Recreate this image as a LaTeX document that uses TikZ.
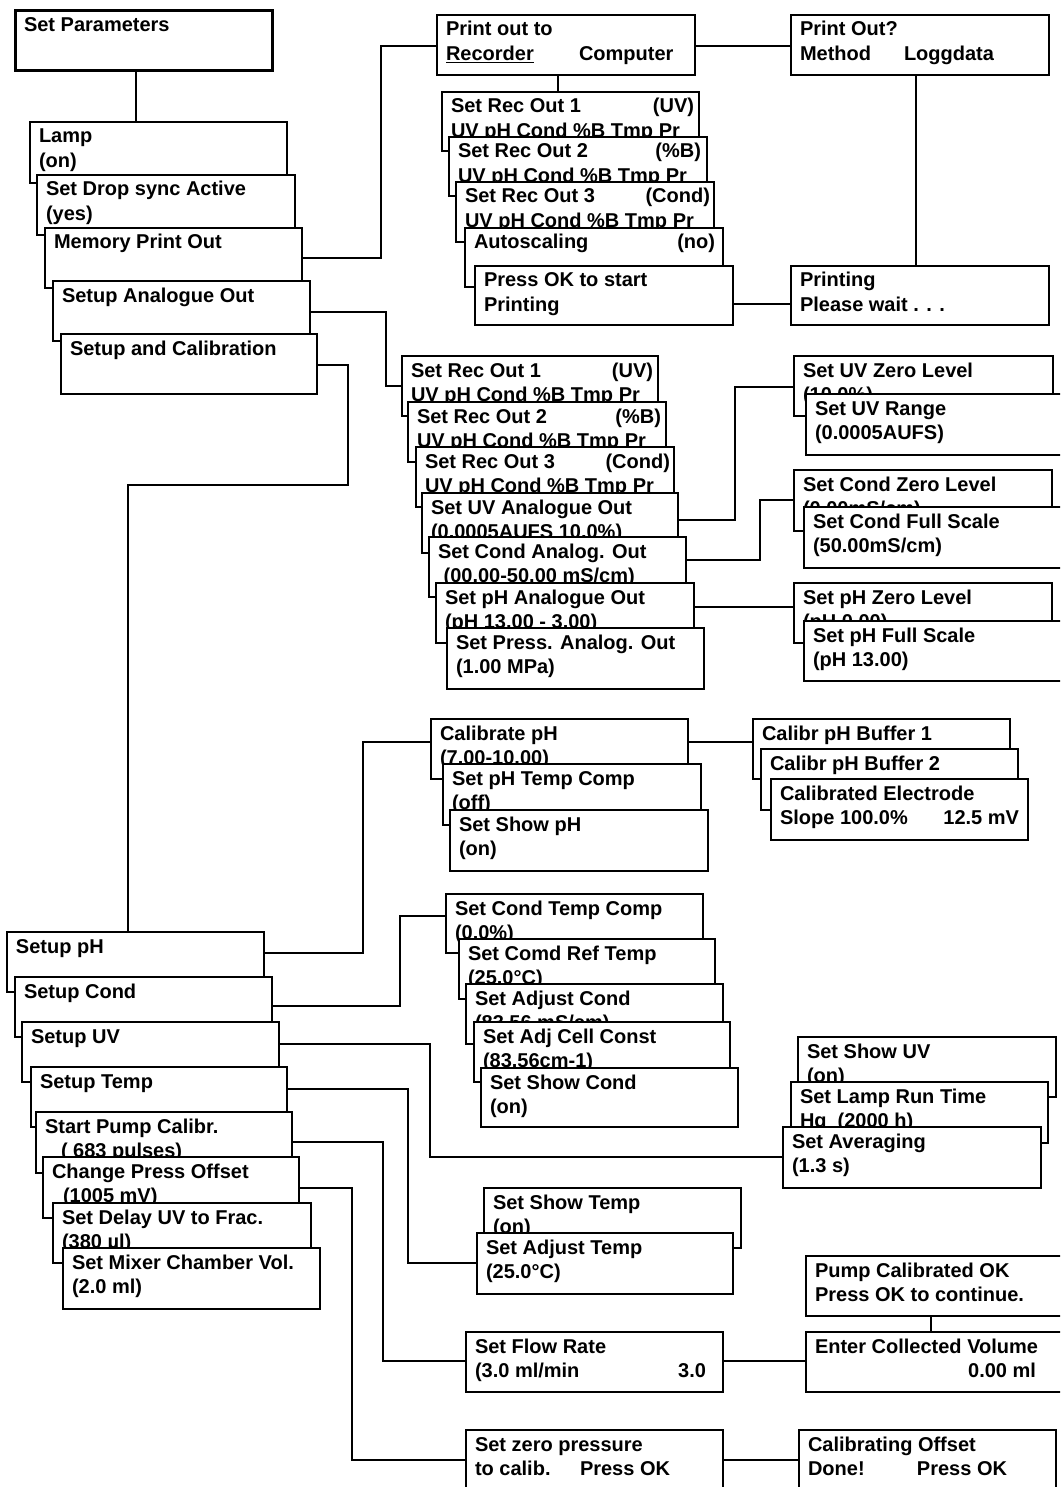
\documentclass[tikz,border=0pt]{standalone}
\usepackage{fontspec}
\setmainfont{Liberation Sans}
\usetikzlibrary{calc}

% one text line of a panel: left part, flush-right part (optional right margin)
\newcommand\pline[3][5]{\hbox to \dimexpr\pw pt-#1pt-9pt\relax{#2\hfil#3}}
% one text line with a second column at a fixed offset
\newcommand\ptab[3]{\hbox{\makebox[#1pt][l]{#2}#3}}
% plain text line
\newcommand\pone[1]{\hbox{#1}}

% \panel[style]{name}{x1}{y1}{x2}{y2}{lines}
\newcommand\panel[7][]{%
  \pgfmathsetmacro\pw{#5-#3}%
  \pgfmathsetmacro\ph{#6-#4}%
  \node[pbox,#1,minimum width=\pw pt,minimum height=\ph pt] (#2) at (#3,#4) {};%
  \node[ptext] (#2-t) at ([shift={(9,21)}]#2.north west) {\vtop{\baselineskip=24.5pt #7}};%
}

\begin{document}
\begin{tikzpicture}[x=1pt,y=-1pt,
  pbox/.style={draw,fill=white,rectangle,inner sep=0pt,outer sep=0pt,
    anchor=north west,line width=1.1pt},
  ptext/.style={anchor=base west,inner sep=0pt,outer sep=0pt,
    font=\fontsize{20}{24.5}\selectfont\bfseries},
  wire/.style={line width=1.1pt}]
\useasboundingbox (0,0) rectangle (1060,1487);
\fill[white] (0,0) rectangle (1060,1487);
\clip (0,0) rectangle (1060,1487);

% main menu
\panel[line width=3pt]{SetParam}{15}{11}{272}{71}{\pone{Set Parameters}}
\panel{Lamp}{30}{122}{287}{183}{\pone{Lamp}\pone{(on)}}
\panel{SetDrop}{37}{175}{295}{235}{\pone{Set Drop sync Active}\pone{(yes)}}
\panel{MemPrint}{45}{228}{302}{288}{\pone{Memory Print Out}}
\panel{SetupAO}{53}{281}{310}{341}{\pone{Setup Analogue Out}}
\panel{SetupCal}{61}{334}{317}{394}{\pone{Setup and Calibration}}

% memory print out
\panel{PrintTo}{437}{15}{695}{75}{\pone{Print out to}\ptab{133}{\underline{Recorder}}{Computer}}
\panel{PrintQ}{791}{15}{1049}{75}{\pone{Print Out?}\ptab{104}{Method}{Loggdata}}
\panel{PRec1}{442}{92}{699}{151}{\pline{Set Rec Out 1}{(UV)}\pone{UV pH Cond \%B Tmp Pr}}
\panel{PRec2}{449}{137}{707}{196}{\pline[6]{Set Rec Out 2}{(\%B)}\pone{UV pH Cond \%B Tmp Pr}}
\panel{PRec3}{456}{182}{714}{242}{\pline[4]{Set Rec Out 3}{(Cond)}\pone{UV pH Cond \%B Tmp Pr}}
\panel{PAuto}{465}{228}{723}{287}{\pline[8]{Autoscaling}{(no)}}
\panel{PressOK}{475}{266}{733}{325}{\pone{Press OK to start}\pone{Printing}}
\panel{Printing}{791}{266}{1049}{325}{\pone{Printing}\pone{Please wait . . .}}

% analogue out
\panel{ARec1}{402}{356}{658}{416}{\pline{Set Rec Out 1}{(UV)}\pone{UV pH Cond \%B Tmp Pr}}
\panel{ARec2}{408}{402}{666}{462}{\pline{Set Rec Out 2}{(\%B)}\pone{UV pH Cond \%B Tmp Pr}}
\panel{ARec3}{416}{447}{674}{507}{\pline[4]{Set Rec Out 3}{(Cond)}\pone{UV pH Cond \%B Tmp Pr}}
\panel{UVAO}{422}{493}{678}{553}{\pone{Set UV Analogue Out}\pone{(0.0005AUFS 10.0\%)}}
\panel{CondAO}{429}{537}{686}{597}{\pone{Set Cond Analog. Out}\pone{\hspace*{5.6pt}(00.00-50.00 mS/cm)}}
\panel{pHAO}{436}{583}{694}{643}{\pone{Set pH Analogue Out}\pone{(pH 13.00 - 3.00)}}
\panel{PressAO}{447}{628}{704}{689}{\pone{Set Press. Analog. Out}\pone{(1.00 MPa)}}
\panel{UVZero}{794}{356}{1053}{416}{\pone{Set UV Zero Level}\pone{(10.0\%)}}
\panel{UVRange}{806}{394}{1070}{455}{\pone{Set UV Range}\pone{(0.0005AUFS)}}
\panel{CondZero}{794}{470}{1052}{531}{\pone{Set Cond Zero Level}\pone{(0.00mS/cm)}}
\panel{CondFS}{804}{507}{1070}{568}{\pone{Set Cond Full Scale}\pone{(50.00mS/cm)}}
\panel{pHZero}{794}{583}{1052}{643}{\pone{Set pH Zero Level}\pone{(pH 0.00)}}
\panel{pHFS}{804}{621}{1070}{681}{\pone{Set pH Full Scale}\pone{(pH 13.00)}}

% pH calibration
\panel{CalpH}{431}{719}{688}{779}{\pone{Calibrate pH}\pone{(7.00-10.00)}}
\panel{pHTemp}{443}{764}{701}{825}{\pone{Set pH Temp Comp}\pone{(off)}}
\panel{ShowpH}{450}{810}{708}{871}{\pone{Set Show pH}\pone{(on)}}
\panel{Buf1}{753}{719}{1010}{779}{\pone{Calibr pH Buffer 1}}
\panel{Buf2}{761}{749}{1018}{810}{\pone{Calibr pH Buffer 2}}
\panel{CalElec}{771}{779}{1028}{840}{\pone{Calibrated Electrode}\pline[9]{Slope 100.0\%}{12.5 mV}}

% setup and calibration menu
\panel{SetuppH}{7}{932}{264}{992}{\pone{Setup pH}}
\panel{SetupCond}{15}{977}{272}{1037}{\pone{Setup Cond}}
\panel{SetupUV}{22}{1022}{279}{1082}{\pone{Setup UV}}
\panel{SetupTemp}{31}{1067}{287}{1127}{\pone{Setup Temp}}
\panel{StartPump}{36}{1112}{292}{1173}{\pone{Start Pump Calibr.}\pone{\hspace*{16pt}( 683 pulses)}}
\panel{ChangePress}{43}{1157}{299}{1218}{\pone{Change Press Offset}\pone{\hspace*{11pt}(1005 mV)}}
\panel{SetDelay}{53}{1203}{311}{1263}{\pone{Set Delay UV to Frac.}\pone{(380 µl)}}
\panel{SetMixer}{63}{1248}{320}{1309}{\pone{Set Mixer Chamber Vol.}\pone{(2.0 ml)}}

% conductivity
\panel{SetCondTC}{446}{894}{703}{953}{\pone{Set Cond Temp Comp}\pone{(0.0\%)}}
\panel{SetCondRef}{459}{939}{715}{999}{\pone{Set Comd Ref Temp}\pone{(25.0°C)}}
\panel{SetAdjCond}{466}{984}{723}{1044}{\pone{Set Adjust Cond}\pone{(83.56 mS/cm)}}
\panel{SetAdjCell}{474}{1022}{730}{1082}{\pone{Set Adj Cell Const}\pone{(83.56cm-1)}}
\panel{SetShowCond}{481}{1068}{738}{1127}{\pone{Set Show Cond}\pone{(on)}}

% UV
\panel{SetShowUV}{798}{1037}{1056}{1097}{\pone{Set Show UV}\pone{(on)}}
\panel{SetLampRun}{791}{1082}{1048}{1143}{\pone{Set Lamp Run Time}\pone{Hg\hspace*{11pt}(2000 h)}}
\panel{SetAveraging}{783}{1127}{1041}{1188}{\pone{Set Averaging}\pone{(1.3 s)}}

% temperature
\panel{SetShowTemp}{484}{1188}{741}{1248}{\pone{Set Show Temp}\pone{(on)}}
\panel{SetAdjTemp}{477}{1233}{733}{1294}{\pone{Set Adjust Temp}\pone{(25.0°C)}}

% pump calibration
\panel{SetFlowRate}{466}{1332}{723}{1392}{\pone{Set Flow Rate}\pline[17]{(3.0 ml/min}{3.0}}
\panel{PumpOK}{806}{1256}{1070}{1316}{\pone{Pump Calibrated OK}\pone{Press OK to continue.}}
\panel{EnterVol}{806}{1332}{1070}{1392}{\pone{Enter Collected Volume}\pline[34]{}{0.00 ml}}

% pressure offset
\panel{SetZeroP}{466}{1430}{723}{1500}{\pone{Set zero pressure}\ptab{105}{to calib.}{Press OK}}
\panel{CalOffset}{799}{1430}{1056}{1500}{\pone{Calibrating Offset}\ptab{109}{Done!}{Press OK}}

% connectors
\draw[wire] ([shift={(121,0)}]SetParam.south west) -- ([shift={(106,0)}]Lamp.north west);
\draw[wire] ([shift={(0,30)}]MemPrint.north east) -| ([shift={(-56,31)}]PrintTo.north west) -- ([shift={(0,31)}]PrintTo.north west);
\draw[wire] ([shift={(0,31)}]PrintTo.north east) -- ([shift={(0,31)}]PrintQ.north west);
\draw[wire] ([shift={(121,0)}]PrintTo.south west) -- ([shift={(116,0)}]PRec1.north west);
\draw[wire] ([shift={(125,0)}]PrintQ.south west) -- ([shift={(125,0)}]Printing.north west);
\draw[wire] ([shift={(0,38)}]PressOK.north east) -- ([shift={(0,38)}]Printing.north west);

\draw[wire] ([shift={(0,31)}]SetupAO.north east) -| ([shift={(-16,30)}]ARec1.north west) -- ([shift={(0,30)}]ARec1.north west);
\draw[wire] ([shift={(0,27)}]UVAO.north east) -| ([shift={(-59,31)}]UVZero.north west) -- ([shift={(0,31)}]UVZero.north west);
\draw[wire] ([shift={(0,23)}]CondAO.north east) -| ([shift={(-34,30)}]CondZero.north west) -- ([shift={(0,30)}]CondZero.north west);
\draw[wire] ([shift={(0,24)}]pHAO.north east) -- ([shift={(0,24)}]pHZero.north west);

\draw[wire] ([shift={(0,31)}]SetupCal.north east) -- ++(31,0) -- ++(0,120) -| ([shift={(121,0)}]SetuppH.north west);
\draw[wire] ([shift={(0,21)}]SetuppH.north east) -| ([shift={(-68,23)}]CalpH.north west) -- ([shift={(0,23)}]CalpH.north west);
\draw[wire] ([shift={(0,23)}]CalpH.north east) -- ([shift={(0,23)}]Buf1.north west);
\draw[wire] ([shift={(0,29)}]SetupCond.north east) -| ([shift={(-46,22)}]SetCondTC.north west) -- ([shift={(0,22)}]SetCondTC.north west);
\draw[wire] ([shift={(0,22)}]SetupUV.north east) -| ([shift={(-353,30)}]SetAveraging.north west) -- ([shift={(0,30)}]SetAveraging.north west);
\draw[wire] ([shift={(0,22)}]SetupTemp.north east) -| ([shift={(-69,30)}]SetAdjTemp.north west) -- ([shift={(0,30)}]SetAdjTemp.north west);
\draw[wire] ([shift={(0,30)}]StartPump.north east) -| ([shift={(-83,29)}]SetFlowRate.north west) -- ([shift={(0,29)}]SetFlowRate.north west);
\draw[wire] ([shift={(0,31)}]ChangePress.north east) -| ([shift={(-114,30)}]SetZeroP.north west) -- ([shift={(0,30)}]SetZeroP.north west);
\draw[wire] ([shift={(0,29)}]SetFlowRate.north east) -- ([shift={(0,29)}]EnterVol.north west);
\draw[wire] ([shift={(125,0)}]PumpOK.south west) -- ([shift={(125,0)}]EnterVol.north west);
\draw[wire] ([shift={(0,30)}]SetZeroP.north east) -- ([shift={(0,30)}]CalOffset.north west);
\end{tikzpicture}
\end{document}
